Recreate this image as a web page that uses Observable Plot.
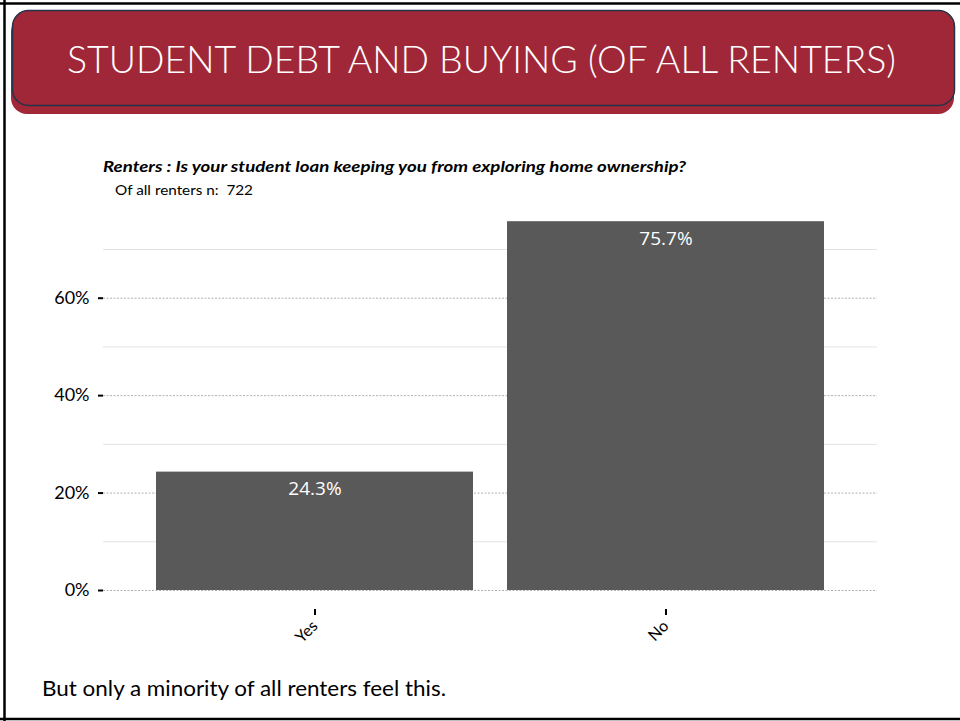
<!DOCTYPE html>
<html>
<head>
<meta charset="utf-8">
<script src="https://cdn.jsdelivr.net/npm/d3@7"></script>
<script src="https://cdn.jsdelivr.net/npm/@observablehq/plot@0.6"></script>
<style>
  html, body { margin: 0; padding: 0; background: #fff; }
  #page { position: relative; width: 960px; height: 721px; overflow: hidden; background: #fff; }
  #bg { position: absolute; left: 0; top: 0; }
  #chart { position: absolute; left: 0; top: 200px; }
</style>
</head>
<body>
<div id="page">
  <svg id="bg" width="960" height="721" xmlns="http://www.w3.org/2000/svg">
    <rect x="11" y="16" width="943" height="98" rx="16" fill="#A22838"/>
    <rect x="12.5" y="10.5" width="942" height="95" rx="16" fill="#9F2737" stroke="#26324a" stroke-width="1.5"/>
    <text x="481.5" y="73" text-anchor="middle" fill="#fff" font-family="Lato" font-weight="300" font-size="37" textLength="829" lengthAdjust="spacingAndGlyphs">STUDENT DEBT AND BUYING (OF ALL RENTERS)</text>
    <text x="103" y="172" fill="#000" font-family="Lato" font-weight="bold" font-style="italic" font-size="15" textLength="583" lengthAdjust="spacingAndGlyphs">Renters : Is your student loan keeping you from exploring home ownership?</text>
    <text x="115" y="195" fill="#000" font-family="Lato" font-size="14" textLength="138" lengthAdjust="spacingAndGlyphs" xml:space="preserve">Of all renters n:  722</text>
    <text x="42" y="696" fill="#000" font-family="Lato" font-size="21" textLength="404" lengthAdjust="spacingAndGlyphs">But only a minority of all renters feel this.</text>
    <line x1="0" y1="3.5" x2="960" y2="3.5" stroke="#000" stroke-width="2.5"/>
    <line x1="4.5" y1="0" x2="4.5" y2="721" stroke="#000" stroke-width="2.5"/>
    <line x1="0" y1="719" x2="960" y2="719" stroke="#000" stroke-width="2.5"/>
  </svg>
  <div id="chart"></div>
</div>
<script>
const categories = ["Yes", "No"];
const shares = [24.3, 75.7];
const majorTicks = [0, 20, 40, 60];
const minorTicks = [10, 30, 50, 70];

const data = categories.map((c, i) => ({
  category: c,
  share: shares[i],
  label: shares[i].toFixed(1) + "%"
}));

const chart = Plot.plot({
  width: 960,
  height: 460,
  marginLeft: 103,
  marginRight: 83,
  marginTop: 10,
  marginBottom: 70,
  style: { fontFamily: "Lato", fontSize: "16px", color: "#000", background: "transparent" },
  x: { domain: categories, paddingInner: 0.097, paddingOuter: 0.148, axis: null, label: null },
  y: { domain: [0, 78], axis: null, label: null },
  marks: [
    Plot.gridY(minorTicks, { stroke: "#e3e3e3", strokeOpacity: 1 }),
    Plot.gridY(majorTicks, { stroke: "#b0b0b0", strokeOpacity: 1, strokeDasharray: "2,1.5" }),
    Plot.barY(data, { x: "category", y: "share", fill: "#595959" }),
    Plot.text(data, { x: "category", y: "share", text: "label", dy: 17, fill: "#fff", fontSize: 19, fontFamily: "Open Sans" }),
    Plot.axisY(majorTicks, { tickSize: 5, tickPadding: 9, strokeWidth: 2, stroke: "#000", tickFormat: d => d + "%", fontSize: 18, label: null }),
    Plot.axisX(categories, { tickSize: 6, text: null, dy: 19, strokeWidth: 2, stroke: "#000", label: null }),
    Plot.axisX(categories, { tickSize: 0, tickRotate: -45, tickPadding: 33, fontSize: 16, label: null })
  ]
});
document.getElementById("chart").appendChild(chart);
</script>
</body>
</html>
